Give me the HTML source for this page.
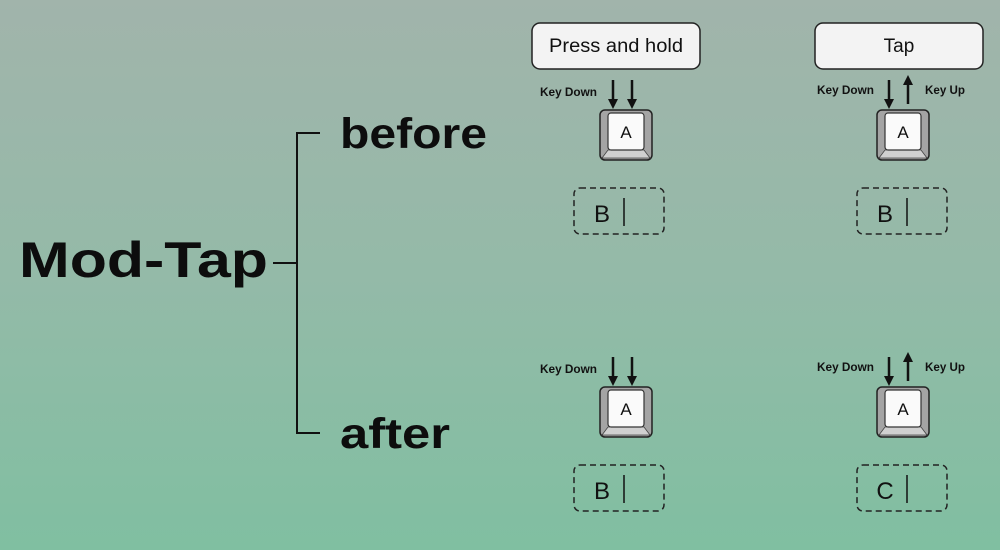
<!DOCTYPE html>
<html><head><meta charset="utf-8"><style>
html,body{margin:0;padding:0}
body{width:1000px;height:550px;overflow:hidden;background:linear-gradient(180deg,#a1b4ab 0%,#94baa8 50%,#80bfa1 100%)}
svg{display:block}
text{font-family:"Liberation Sans",sans-serif}
</style></head><body>
<svg width="1000" height="550" viewBox="0 0 1000 550">
<defs>
<marker id="ah" viewBox="0 0 10 10" refX="5" refY="5" markerWidth="10" markerHeight="10" orient="auto" markerUnits="userSpaceOnUse"><path d="M0,0 L10,5 L0,10 Z" fill="#111"/></marker>
<g id="key">
<rect x="0" y="0" width="52" height="50" rx="5" fill="#a4a4a4" stroke="#222" stroke-width="1.5"/>
<path d="M8,40 L44,40 L50,48 L2,48 Z" fill="#d0d0d0" stroke="#444" stroke-width="0.8"/>
<rect x="8" y="3" width="36" height="37" rx="3" fill="#fafafa" stroke="#333" stroke-width="1.2"/>
<text x="26" y="28" font-size="17" text-anchor="middle" fill="#111">A</text>
</g>
</defs>
<text x="19" y="277" font-size="50" font-weight="bold" fill="#0d0d0d" textLength="249" lengthAdjust="spacingAndGlyphs">Mod-Tap</text>
<path d="M273,263 H297 M320,133 H297 V433 H320" stroke="#111" stroke-width="2" fill="none"/>
<text x="340" y="148" font-size="43" font-weight="bold" fill="#0d0d0d" textLength="147" lengthAdjust="spacingAndGlyphs">before</text>
<text x="340" y="448" font-size="43" font-weight="bold" fill="#0d0d0d" textLength="110" lengthAdjust="spacingAndGlyphs">after</text>

<rect x="532" y="23" width="168" height="46" rx="8" fill="#f3f3f3" stroke="#222" stroke-width="1.5"/>
<text x="616" y="52" font-size="19" text-anchor="middle" fill="#111" textLength="134" lengthAdjust="spacingAndGlyphs">Press and hold</text>
<rect x="815" y="23" width="168" height="46" rx="8" fill="#f3f3f3" stroke="#222" stroke-width="1.5"/>
<text x="899" y="52" font-size="19" text-anchor="middle" fill="#111">Tap</text>

<g font-size="12" fill="#111" font-weight="bold">
<text x="597" y="96" text-anchor="end" textLength="57" lengthAdjust="spacingAndGlyphs">Key Down</text>
<text x="874" y="94" text-anchor="end" textLength="57" lengthAdjust="spacingAndGlyphs">Key Down</text>
<text x="925" y="94" textLength="40" lengthAdjust="spacingAndGlyphs">Key Up</text>
<text x="597" y="373" text-anchor="end" textLength="57" lengthAdjust="spacingAndGlyphs">Key Down</text>
<text x="874" y="371" text-anchor="end" textLength="57" lengthAdjust="spacingAndGlyphs">Key Down</text>
<text x="925" y="371" textLength="40" lengthAdjust="spacingAndGlyphs">Key Up</text>
</g>

<line x1="613" y1="80" x2="613" y2="104" stroke="#111" stroke-width="2.5" marker-end="url(#ah)"/>
<line x1="632" y1="80" x2="632" y2="104" stroke="#111" stroke-width="2.5" marker-end="url(#ah)"/>
<use href="#key" x="600" y="110"/>
<rect x="574" y="188" width="90" height="46" rx="6" fill="none" stroke="#222" stroke-width="1.5" stroke-dasharray="6,4"/>
<text x="602" y="222" font-size="24" text-anchor="middle" fill="#111">B</text>
<line x1="624" y1="198" x2="624" y2="226" stroke="#111" stroke-width="1.5"/>

<line x1="889" y1="80" x2="889" y2="104" stroke="#111" stroke-width="2.5" marker-end="url(#ah)"/>
<line x1="908" y1="104" x2="908" y2="80" stroke="#111" stroke-width="2.5" marker-end="url(#ah)"/>
<use href="#key" x="877" y="110"/>
<rect x="857" y="188" width="90" height="46" rx="6" fill="none" stroke="#222" stroke-width="1.5" stroke-dasharray="6,4"/>
<text x="885" y="222" font-size="24" text-anchor="middle" fill="#111">B</text>
<line x1="907" y1="198" x2="907" y2="226" stroke="#111" stroke-width="1.5"/>

<line x1="613" y1="357" x2="613" y2="381" stroke="#111" stroke-width="2.5" marker-end="url(#ah)"/>
<line x1="632" y1="357" x2="632" y2="381" stroke="#111" stroke-width="2.5" marker-end="url(#ah)"/>
<use href="#key" x="600" y="387"/>
<rect x="574" y="465" width="90" height="46" rx="6" fill="none" stroke="#222" stroke-width="1.5" stroke-dasharray="6,4"/>
<text x="602" y="499" font-size="24" text-anchor="middle" fill="#111">B</text>
<line x1="624" y1="475" x2="624" y2="503" stroke="#111" stroke-width="1.5"/>

<line x1="889" y1="357" x2="889" y2="381" stroke="#111" stroke-width="2.5" marker-end="url(#ah)"/>
<line x1="908" y1="381" x2="908" y2="357" stroke="#111" stroke-width="2.5" marker-end="url(#ah)"/>
<use href="#key" x="877" y="387"/>
<rect x="857" y="465" width="90" height="46" rx="6" fill="none" stroke="#222" stroke-width="1.5" stroke-dasharray="6,4"/>
<text x="885" y="499" font-size="24" text-anchor="middle" fill="#111">C</text>
<line x1="907" y1="475" x2="907" y2="503" stroke="#111" stroke-width="1.5"/>
</svg>
</body></html>
